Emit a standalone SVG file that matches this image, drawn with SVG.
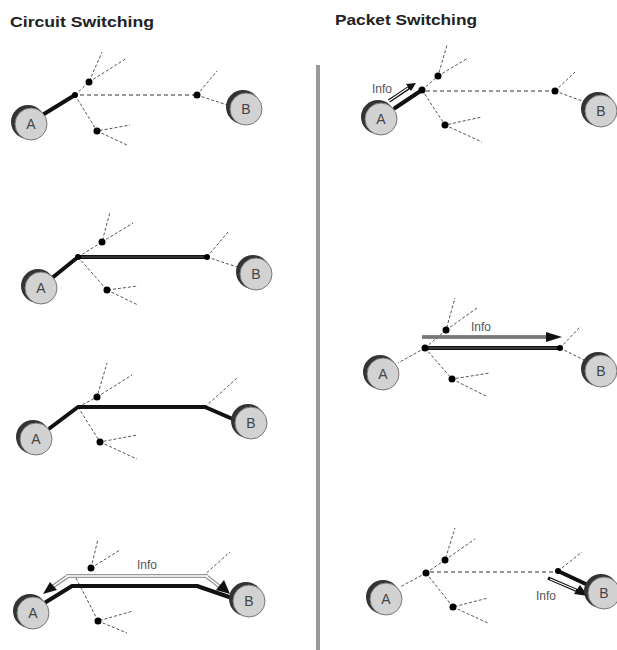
<svg xmlns="http://www.w3.org/2000/svg" width="617" height="650" viewBox="0 0 617 650">
<defs>
<style>
.title{font-family:"Liberation Sans",Arial,sans-serif;font-weight:bold;font-size:15px;fill:#222}
.lbl{font-family:"Liberation Sans",Arial,sans-serif;font-size:14px;fill:#444;text-anchor:middle}
.info{font-family:"Liberation Sans",Arial,sans-serif;font-size:12px;fill:#555}
.dot{stroke:#555;stroke-width:1;stroke-dasharray:3 2;fill:none}
.hdot{stroke:#999;stroke-width:2;stroke-dasharray:4 3;fill:none}
.thick{stroke:#111;stroke-width:4;fill:none;stroke-linecap:round;stroke-linejoin:round}
.sw{fill:#000}
.shadow{fill:#333}
.disk{fill:#d2d2d2;stroke:#777;stroke-width:1}
</style>
</defs>
<rect width="617" height="650" fill="#fff"/>
<text class="title" x="10" y="27" textLength="144" lengthAdjust="spacingAndGlyphs">Circuit Switching</text>
<text class="title" x="335" y="25" textLength="142" lengthAdjust="spacingAndGlyphs">Packet Switching</text>
<rect x="316" y="65" width="4" height="585" fill="#999"/>

<g id="connectors">
<path class="dot" d="M75,95 L89,82 L102,52 M89,82 L127,58 M75,95 L97,131 L130,125 M97,131 L127,145 M197,95 L217,71 M197,95 L230,106"/>
<path class="hdot" d="M80,95 L194,95"/>
<path class="thick" d="M44,114 L75,95"/>
<path class="dot" d="M78,257 L102,242 L110,212 M102,242 L133,223 M78,257 L107,290 L138,286 M107,290 L138,305 M207,257 L228,232 M207,257 L240,268"/>
<path class="thick" d="M52,278 L78,257 L207,257"/>
<path d="M80,257 L205,257" stroke="#555" stroke-width="1" fill="none"/>
<path class="dot" d="M78,407 L97,397 L107,363 M97,397 L132,375 M78,407 L100,442 L137,435 M100,442 L137,459"/>
<path class="dot" d="M205,407 L237,378"/>
<path class="thick" d="M50,428 L78,407 L205,407 L235,420"/>
<path class="dot" d="M91,568 L98,539 M91,568 L120,550 M76,578 L98,621 L133,611 M98,621 L127,633 M203,576 L230,552"/>
<path class="thick" d="M46,602 L72,586 L197,586 L232,598"/>
<path d="M68,576 L48,590 M66,576 L208,576 M206,576 L224,590" stroke="#999" stroke-width="4" fill="none" stroke-linejoin="round"/>
<path d="M68,576 L48,590 M66,576 L208,576 M206,576 L224,590" stroke="#fff" stroke-width="1.5" fill="none"/>
<path d="M43,594 L50,582 L57,590 z" fill="#111"/>
<path d="M230,594 L216,590 L224,580 z" fill="#111"/>
<text class="info" x="137" y="569">Info</text>
<path class="dot" d="M422,90 L438,76 L447,45 M438,76 L468,58 M422,90 L445,125 L482,117 M445,125 L482,142 M555,91 L575,72 M555,91 L585,102"/>
<path class="hdot" d="M426,91 L552,91"/>
<path class="thick" d="M395,108 L422,90"/>
<path d="M389,101 L410,87" stroke="#111" stroke-width="3.5" fill="none"/>
<path d="M389,101 L408,88" stroke="#fff" stroke-width="1.2" fill="none"/>
<path d="M406,84 L416,83 L411,91 z" fill="#111"/>
<text class="info" x="372" y="93">Info</text>
<path class="dot" d="M425,348 L446,330 L455,298 M446,330 L477,308 M425,348 L452,379 L490,373 M452,379 L488,397 M560,348 L580,327 M560,348 L588,362 M425,348 L398,363"/>
<path class="thick" d="M425,348 L560,348"/>
<path d="M427,348 L558,348" stroke="#666" stroke-width="1" fill="none"/>
<path d="M422,337 L548,337" stroke="#111" stroke-width="3" fill="none"/>
<path d="M422,337 L546,337" stroke="#ddd" stroke-width="1" fill="none"/>
<path d="M562,337 L546,332 L546,342 z" fill="#111"/>
<text class="info" x="471" y="331">Info</text>
<path class="dot" d="M426,573 L445,560 L455,528 M445,560 L475,539 M426,573 L453,607 L488,598 M453,607 L488,623 M558,571 L582,552 M426,573 L400,587"/>
<path class="hdot" d="M430,572 L555,572"/>
<path class="thick" d="M558,571 L590,586"/>
<path d="M548,578 L578,591" stroke="#111" stroke-width="3.5" fill="none"/>
<path d="M550,579 L576,590" stroke="#fff" stroke-width="1.2" fill="none"/>
<path d="M588,596 L574,594 L580,585 z" fill="#111"/>
<text class="info" x="536" y="600">Info</text>
</g>

<g id="C1-A"><circle class="shadow" cx="28" cy="122" r="17"/><circle class="disk" cx="31" cy="124" r="16"/><text class="lbl" x="31" y="129">A</text></g>
<g id="C1-B"><circle class="shadow" cx="243" cy="107" r="17"/><circle class="disk" cx="246" cy="109" r="16"/><text class="lbl" x="246" y="114">B</text></g>
<g id="C1-n"><circle class="sw" cx="75" cy="95" r="3"/><circle class="sw" cx="89" cy="82" r="3.5"/><circle class="sw" cx="97" cy="131" r="3.5"/><circle class="sw" cx="197" cy="95" r="3.5"/></g>

<g id="C2-A"><circle class="shadow" cx="38" cy="286" r="17"/><circle class="disk" cx="41" cy="288" r="16"/><text class="lbl" x="41" y="293">A</text></g>
<g id="C2-B"><circle class="shadow" cx="253" cy="272" r="17"/><circle class="disk" cx="256" cy="274" r="16"/><text class="lbl" x="256" y="279">B</text></g>
<g id="C2-n"><circle class="sw" cx="78" cy="257" r="3"/><circle class="sw" cx="102" cy="242" r="3.5"/><circle class="sw" cx="107" cy="290" r="3.5"/><circle class="sw" cx="207" cy="257" r="3"/></g>

<g id="C3-A"><circle class="shadow" cx="33" cy="437" r="17"/><circle class="disk" cx="36" cy="439" r="16"/><text class="lbl" x="36" y="444">A</text></g>
<g id="C3-B"><circle class="shadow" cx="248" cy="421" r="17"/><circle class="disk" cx="251" cy="423" r="16"/><text class="lbl" x="251" y="428">B</text></g>
<g id="C3-n"><circle class="sw" cx="97" cy="397" r="3.5"/><circle class="sw" cx="100" cy="442" r="3.5"/></g>

<g id="C4-A"><circle class="shadow" cx="30" cy="611" r="17"/><circle class="disk" cx="33" cy="613" r="16"/><text class="lbl" x="33" y="618">A</text></g>
<g id="C4-B"><circle class="shadow" cx="246" cy="599" r="17"/><circle class="disk" cx="249" cy="601" r="16"/><text class="lbl" x="249" y="606">B</text></g>
<g id="C4-n"><circle class="sw" cx="91" cy="568" r="3.5"/><circle class="sw" cx="98" cy="621" r="3.5"/></g>

<g id="P1-A"><circle class="shadow" cx="378" cy="117" r="17"/><circle class="disk" cx="381" cy="119" r="16"/><text class="lbl" x="381" y="124">A</text></g>
<g id="P1-B"><circle class="shadow" cx="598" cy="109" r="17"/><circle class="disk" cx="601" cy="111" r="16"/><text class="lbl" x="601" y="116">B</text></g>
<g id="P1-n"><circle class="sw" cx="422" cy="90" r="3.5"/><circle class="sw" cx="438" cy="76" r="3.5"/><circle class="sw" cx="445" cy="125" r="3.5"/><circle class="sw" cx="555" cy="91" r="3.5"/></g>

<g id="P2-A"><circle class="shadow" cx="380" cy="372" r="17"/><circle class="disk" cx="383" cy="374" r="16"/><text class="lbl" x="383" y="379">A</text></g>
<g id="P2-B"><circle class="shadow" cx="598" cy="369" r="17"/><circle class="disk" cx="601" cy="371" r="16"/><text class="lbl" x="601" y="376">B</text></g>
<g id="P2-n"><circle class="sw" cx="425" cy="348" r="3.5"/><circle class="sw" cx="446" cy="330" r="3.5"/><circle class="sw" cx="452" cy="379" r="3.5"/><circle class="sw" cx="560" cy="348" r="3"/></g>

<g id="P3-A"><circle class="shadow" cx="383" cy="597" r="17"/><circle class="disk" cx="386" cy="599" r="16"/><text class="lbl" x="386" y="604">A</text></g>
<g id="P3-B"><circle class="shadow" cx="601" cy="591" r="17"/><circle class="disk" cx="604" cy="593" r="16"/><text class="lbl" x="604" y="598">B</text></g>
<g id="P3-n"><circle class="sw" cx="426" cy="573" r="3.5"/><circle class="sw" cx="445" cy="560" r="3.5"/><circle class="sw" cx="453" cy="607" r="3.5"/><circle class="sw" cx="558" cy="571" r="3"/></g>
</svg>
